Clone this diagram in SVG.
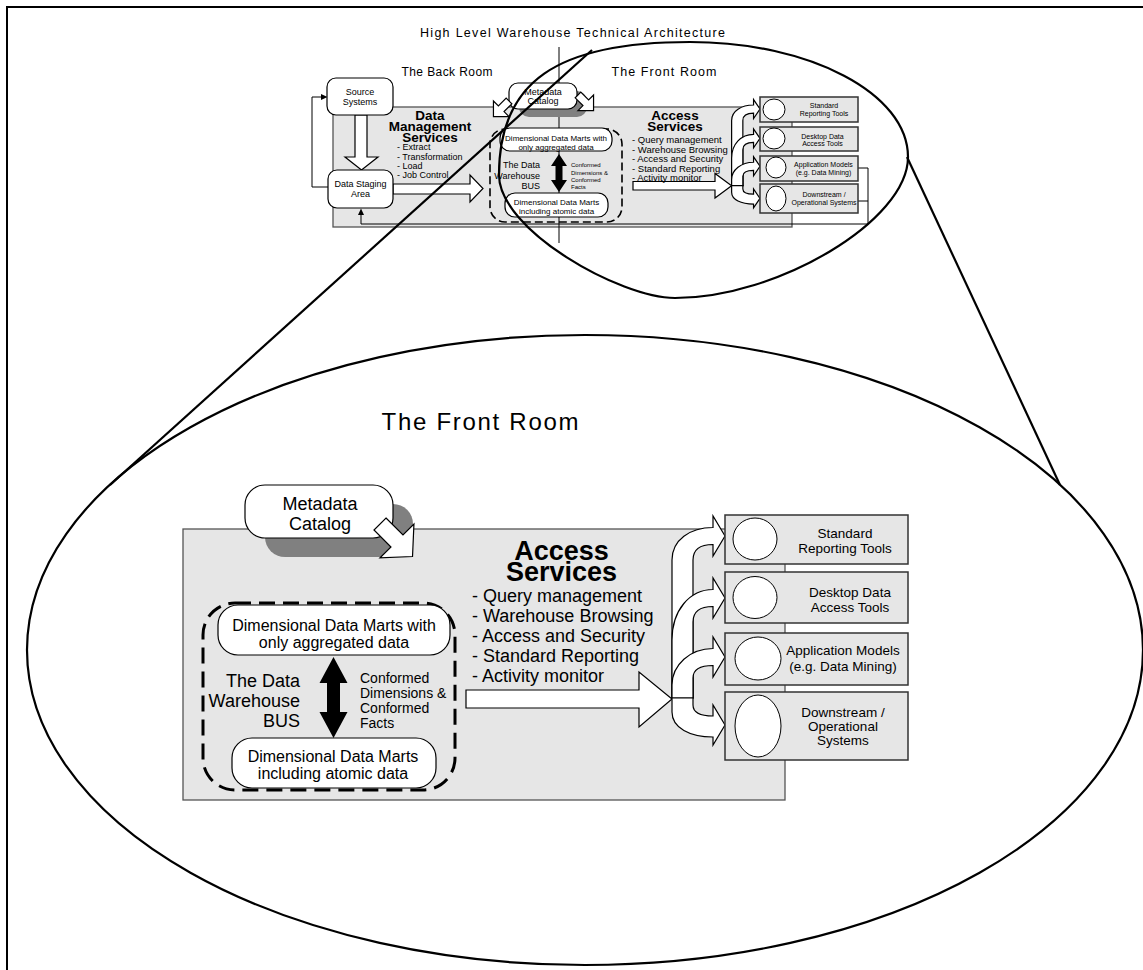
<svg xmlns="http://www.w3.org/2000/svg" xmlns:xlink="http://www.w3.org/1999/xlink" width="1143" height="970" viewBox="0 0 1143 970">
  <style>
    text { font-family: "Liberation Sans", Arial, sans-serif; fill: #000; }
    .b { font-weight: bold; }
    .mid { text-anchor: middle; }
    .end { text-anchor: end; }
    .panel { fill: #e6e6e6; stroke: #555; stroke-width: 1.3; }
    .tool { fill: #e6e6e6; stroke: #333; stroke-width: 1.5; }
    .round { fill: #fff; stroke: #000; stroke-width: 1.2; }
    .shadow { fill: #808080; }
    .warrow { fill: #fff; stroke: #000; stroke-width: 1.2; stroke-linejoin: miter; }
    .fan { fill: #fff; stroke: #000; stroke-width: 1.2; vector-effect: non-scaling-stroke; }
    .karrow { fill: #000; }
    .bus { fill: none; stroke: #000; stroke-width: 3; stroke-dasharray: 16 8; }
    .bus-s { fill: none; stroke: #000; stroke-width: 1.6; stroke-dasharray: 8 4; }
    .line { fill: none; stroke: #000; stroke-width: 1; }
    .callout { fill: none; stroke: #000; stroke-width: 2.2; }
    .circ { fill: #fff; stroke: #000; stroke-width: 1; }
  </style>
  <defs>
    <!-- curved fan-out arrows from the access services junction to the four tool boxes -->
    <g id="fanout">
      <path class="fan" d="M672,698 L672,560 C672,540 690,527.5 713,527.5 L713,516 L725,536 L713,556 L713,544.5 C700,544.5 693,550 693,560 L693,698 Z"/>
      <path class="fan" d="M672,698 L672,640 C672,610 690,589.5 713,589.5 L713,578 L725,598 L713,618 L713,606.5 C700,606.5 693,612 693,622 L693,698 Z"/>
      <path class="fan" d="M672,698 L672,685 C672,665 690,648.5 713,648.5 L713,637 L725,657 L713,677 L713,665.5 C700,665.5 693,670 693,678 L693,698 Z"/>
      <path class="fan" d="M693,698 L693,705 C693,712 700,716 713,716 L713,705 L725,725 L713,745 L713,737 C690,737 672,728 672,712 L672,698 Z"/>
    </g>
  </defs>

  <!-- page frame -->
  <rect x="7" y="7" width="1145" height="975" fill="none" stroke="#000" stroke-width="2"/>

  <!-- ===================== overview diagram ===================== -->
  <g id="overview">
    <text x="420" y="37" font-size="12.5" textLength="305" lengthAdjust="spacing">High Level Warehouse Technical Architecture</text>
    <text x="447" y="76" font-size="12" class="mid" textLength="91" lengthAdjust="spacing">The Back Room</text>
    <text x="664" y="76" font-size="12.5" class="mid" textLength="105" lengthAdjust="spacing">The Front Room</text>

    <g id="s-panel">
      <rect class="panel" x="333" y="107" width="459" height="120"/>
    </g>

    <!-- room divider -->
    <line class="line" x1="559" y1="47" x2="559" y2="243"/>

    <g id="s-connectors">
      <!-- staging back to sources -->
      <polyline class="line" points="328,187 312,187 312,97 322,97"/>
      <polygon points="327.5,97 321,94 321,100"/>
      <!-- application models / downstream back to staging -->
      <polyline class="line" points="858,168 868,168 868,224 361,224 361,214"/>
      <line class="line" x1="858" y1="201" x2="868" y2="201"/>
      <polygon points="361,208.5 358,215 364,215"/>
      <!-- source to staging -->
      <polygon class="warrow" points="355,115 367,115 367,157 378,157 361.5,170 345,157 355,157"/>
      <!-- staging to the bus -->
      <polygon class="warrow" points="393,184 470,184 470,175 483,188.5 470,202 470,194 393,194"/>
      <!-- bus to the tools -->
      <polygon class="warrow" points="633,181.5 715,181.5 715,173.5 731.6,185.7 715,198 715,190 633,190"/>
      <use xlink:href="#fanout" transform="matrix(0.535,0,0,0.473,372.1,-144.5)"/>
    </g>

    <g id="s-source">
      <rect class="round" x="327" y="78" width="66" height="37" rx="9"/>
      <text x="360" y="95" font-size="9" class="mid">Source</text>
      <text x="360" y="104.5" font-size="9" class="mid">Systems</text>
    </g>
    <g id="s-staging">
      <rect class="round" x="328" y="170" width="65" height="38" rx="9"/>
      <text x="360.5" y="187" font-size="9" class="mid">Data Staging</text>
      <text x="360.5" y="197" font-size="9" class="mid">Area</text>
    </g>

    <g id="s-dms">
      <text x="430" y="120" font-size="13.5" class="b mid">Data</text>
      <text x="430" y="131" font-size="13.5" class="b mid">Management</text>
      <text x="430" y="142" font-size="13.5" class="b mid">Services</text>
      <text x="397" y="150" font-size="9">- Extract</text>
      <text x="397" y="159.5" font-size="9">- Transformation</text>
      <text x="397" y="168.5" font-size="9">- Load</text>
      <text x="397" y="178" font-size="9">- Job Control</text>
    </g>

    <g id="s-metadata">
      <rect class="shadow" x="519" y="91" width="68" height="26" rx="10"/>
      <rect class="round" x="509" y="83" width="68" height="26" rx="9"/>
      <text x="543" y="95" font-size="9" class="mid">Metadata</text>
      <text x="543" y="104" font-size="9" class="mid">Catalog</text>
      <polygon class="warrow" transform="translate(509,101) rotate(135)" points="0,-4 11,-4 11,-11 22,0 11,11 11,4 0,4"/>
      <polygon class="warrow" transform="translate(578,95) rotate(45)" points="0,-4 11,-4 11,-11 22,0 11,11 11,4 0,4"/>
    </g>

    <g id="s-bus">
      <rect class="bus-s" x="490" y="129" width="132" height="93" rx="15"/>
      <rect class="round" x="500" y="128" width="112" height="23" rx="10"/>
      <text x="556" y="141" font-size="8" class="mid">Dimensional Data Marts with</text>
      <text x="556" y="149.5" font-size="8" class="mid">only aggregated data</text>
      <rect class="round" x="505" y="193" width="103" height="24" rx="10"/>
      <text x="556.5" y="205" font-size="8" class="mid">Dimensional Data Marts</text>
      <text x="556.5" y="214" font-size="8" class="mid">including atomic data</text>
      <polygon class="karrow" points="559,154 567,166 562.5,166 562.5,180 567,180 559,192 551,180 555.5,180 555.5,166 551,166"/>
      <text x="540" y="168" font-size="9" class="end">The Data</text>
      <text x="540" y="178.5" font-size="9" class="end">Warehouse</text>
      <text x="540" y="188.5" font-size="9" class="end">BUS</text>
      <text x="571" y="167" font-size="6">Conformed</text>
      <text x="571" y="174.5" font-size="6">Dimensions &amp;</text>
      <text x="571" y="181.5" font-size="6">Conformed</text>
      <text x="571" y="189" font-size="6">Facts</text>
    </g>

    <g id="s-access">
      <text x="675" y="120" font-size="13.5" class="b mid">Access</text>
      <text x="675" y="131" font-size="13.5" class="b mid">Services</text>
      <text x="632" y="143" font-size="9.5">- Query management</text>
      <text x="632" y="152.5" font-size="9.5">- Warehouse Browsing</text>
      <text x="632" y="162" font-size="9.5">- Access and Security</text>
      <text x="632" y="171.5" font-size="9.5">- Standard Reporting</text>
      <text x="632" y="181" font-size="9.5">- Activity monitor</text>
    </g>

    <g id="s-tool-reporting">
      <rect class="tool" x="760" y="97" width="98" height="25" stroke-width="1.2"/>
      <ellipse class="circ" cx="774" cy="109.5" rx="11" ry="10.5"/>
      <text x="824" y="108" font-size="7" class="mid">Standard</text>
      <text x="824" y="116" font-size="7" class="mid">Reporting Tools</text>
    </g>
    <g id="s-tool-desktop">
      <rect class="tool" x="760" y="127" width="98" height="24" stroke-width="1.2"/>
      <ellipse class="circ" cx="774" cy="138.5" rx="11" ry="10.5"/>
      <text x="822.5" y="138.5" font-size="7" class="mid">Desktop Data</text>
      <text x="822.5" y="146" font-size="7" class="mid">Access Tools</text>
    </g>
    <g id="s-tool-models">
      <rect class="tool" x="760" y="156" width="98" height="25" stroke-width="1.2"/>
      <ellipse class="circ" cx="776" cy="167.5" rx="10" ry="10.5"/>
      <text x="823.5" y="167" font-size="7" class="mid">Application Models</text>
      <text x="823.5" y="175" font-size="7" class="mid">(e.g. Data Mining)</text>
    </g>
    <g id="s-tool-downstream">
      <rect class="tool" x="760" y="184" width="98" height="29" stroke-width="1.2"/>
      <ellipse class="circ" cx="776" cy="198.5" rx="10" ry="12.5"/>
      <text x="824" y="197" font-size="7" class="mid">Downstream /</text>
      <text x="824" y="204.5" font-size="7" class="mid">Operational Systems</text>
    </g>
  </g>

  <!-- ===================== magnifier callout ===================== -->
  <g id="callout">
    <path class="callout" d="M499,175 C499,82 556,42 690,42 C810,42 908,93.5 908,157 C908,221 777,298 675,298 C620,298 499,230 499,175 Z"/>
    <line class="callout" x1="110" y1="485" x2="592" y2="50"/>
    <line class="callout" x1="1060" y1="485" x2="907" y2="157"/>
    <ellipse class="callout" cx="585" cy="650" rx="558" ry="315"/>
  </g>

  <!-- ===================== front room detail ===================== -->
  <g id="front-room">
    <text x="480" y="430" font-size="24" class="mid" textLength="197" lengthAdjust="spacing">The Front Room</text>

    <g id="panel">
      <rect class="panel" x="183" y="529" width="602" height="271"/>
    </g>

    <g id="metadata-catalog">
      <rect class="shadow" x="265" y="504" width="148" height="53" rx="20"/>
      <rect class="round" x="245" y="485" width="148" height="53" rx="20"/>
      <text x="320" y="509.5" font-size="18" class="mid">Metadata</text>
      <text x="320" y="529.5" font-size="18" class="mid">Catalog</text>
    </g>

    <g id="connectors">
      <polygon class="warrow" transform="translate(380,524) rotate(45)" points="0,-8.5 24,-8.5 24,-24 46,0 24,24 24,8.5 0,8.5"/>
      <polygon class="warrow" points="466,690 639,690 639,672 672,699 639,727 639,708 466,708"/>
      <use xlink:href="#fanout"/>
    </g>

    <g id="data-warehouse-bus">
      <rect class="bus" x="203" y="603" width="252" height="187" rx="32"/>
      <polygon class="karrow" points="333.5,657 347.5,683 340,683 340,712 347.5,712 333.5,738 319.5,712 327,712 327,683 319.5,683"/>
      <text x="300" y="687" font-size="18" class="end">The Data</text>
      <text x="300" y="707" font-size="18" class="end">Warehouse</text>
      <text x="300" y="727" font-size="18" class="end">BUS</text>
      <text x="360" y="683" font-size="14">Conformed</text>
      <text x="360" y="698" font-size="14">Dimensions &amp;</text>
      <text x="360" y="713" font-size="14">Conformed</text>
      <text x="360" y="727.5" font-size="14">Facts</text>
    </g>

    <g id="aggregated-marts">
      <rect class="round" x="218" y="605" width="232" height="50" rx="20"/>
      <text x="334" y="631" font-size="16" class="mid">Dimensional Data Marts with</text>
      <text x="334" y="648" font-size="16" class="mid">only aggregated data</text>
    </g>

    <g id="atomic-marts">
      <rect class="round" x="232" y="738" width="204" height="50" rx="20"/>
      <text x="333" y="762" font-size="16" class="mid">Dimensional Data Marts</text>
      <text x="333" y="779" font-size="16" class="mid">including atomic data</text>
    </g>

    <g id="access-services">
      <text x="561.5" y="560" font-size="27" class="b mid">Access</text>
      <text x="561.5" y="581" font-size="27" class="b mid">Services</text>
      <text x="472" y="602" font-size="18">- Query management</text>
      <text x="472" y="622" font-size="18">- Warehouse Browsing</text>
      <text x="472" y="642" font-size="18">- Access and Security</text>
      <text x="472" y="662" font-size="18">- Standard Reporting</text>
      <text x="472" y="682" font-size="18">- Activity monitor</text>
    </g>

    <g id="tool-reporting">
      <rect class="tool" x="725" y="515" width="183" height="49"/>
      <ellipse class="circ" cx="755" cy="539" rx="22" ry="21"/>
      <text x="845" y="538" font-size="13.5" class="mid">Standard</text>
      <text x="845" y="553" font-size="13.5" class="mid">Reporting Tools</text>
    </g>
    <g id="tool-desktop">
      <rect class="tool" x="725" y="572" width="183" height="51"/>
      <ellipse class="circ" cx="755" cy="597.5" rx="22" ry="21"/>
      <text x="850" y="597" font-size="13.5" class="mid">Desktop Data</text>
      <text x="850" y="612" font-size="13.5" class="mid">Access Tools</text>
    </g>
    <g id="tool-models">
      <rect class="tool" x="725" y="633" width="183" height="52"/>
      <ellipse class="circ" cx="758" cy="658.5" rx="23" ry="21.5"/>
      <text x="843" y="655" font-size="13.5" class="mid">Application Models</text>
      <text x="843" y="671" font-size="13.5" class="mid">(e.g. Data Mining)</text>
    </g>
    <g id="tool-downstream">
      <rect class="tool" x="725" y="692" width="183" height="68"/>
      <ellipse class="circ" cx="758" cy="726" rx="23" ry="31"/>
      <text x="843" y="717" font-size="13.5" class="mid">Downstream /</text>
      <text x="843" y="731" font-size="13.5" class="mid">Operational</text>
      <text x="843" y="745" font-size="13.5" class="mid">Systems</text>
    </g>
  </g>
</svg>
